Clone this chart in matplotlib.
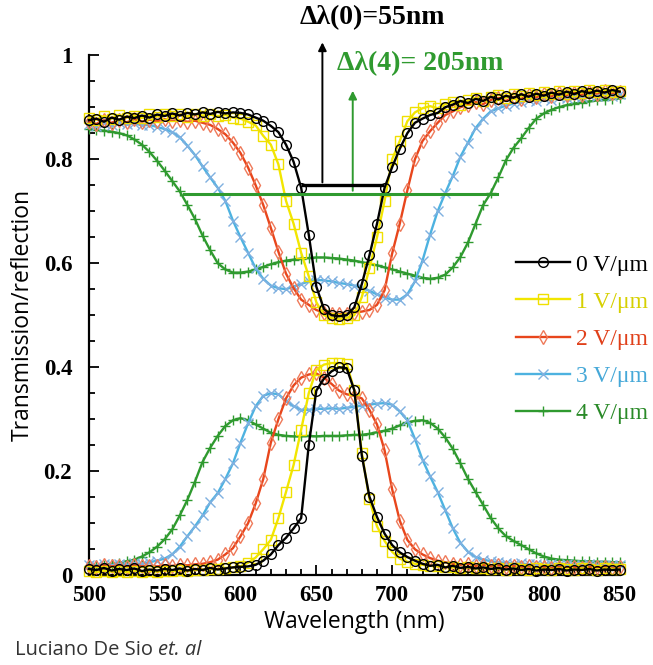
import numpy as np
import matplotlib
matplotlib.use("Agg")
import matplotlib.pyplot as plt
from matplotlib.ticker import MultipleLocator

# wavelength grid (nm)
wavelength = np.arange(500, 851, 5)

# upper curves (reflection), one per field
refl_0 = [0.875, 0.878, 0.872, 0.880, 0.876, 0.882, 0.879, 0.884, 0.880, 0.886,
          0.883, 0.888, 0.884, 0.889, 0.886, 0.890, 0.887, 0.891, 0.888, 0.890,
          0.889, 0.886, 0.880, 0.874, 0.864, 0.852, 0.828, 0.795, 0.745, 0.655,
          0.555, 0.512, 0.500, 0.498, 0.500, 0.515, 0.560, 0.615, 0.676, 0.745,
          0.785, 0.820, 0.850, 0.870, 0.878, 0.885, 0.889, 0.900, 0.905, 0.912,
          0.908, 0.916, 0.912, 0.920, 0.915, 0.922, 0.918, 0.925, 0.920, 0.926,
          0.922, 0.928, 0.924, 0.930, 0.925, 0.931, 0.927, 0.932, 0.928, 0.933,
          0.930]
refl_1 = [0.880, 0.876, 0.883, 0.878, 0.885, 0.880, 0.884, 0.879, 0.886, 0.882,
          0.887, 0.883, 0.886, 0.882, 0.887, 0.884, 0.886, 0.883, 0.885, 0.880,
          0.878, 0.872, 0.865, 0.845, 0.828, 0.790, 0.720, 0.676, 0.620, 0.575,
          0.525, 0.500, 0.495, 0.493, 0.495, 0.500, 0.535, 0.590, 0.650, 0.720,
          0.800, 0.835, 0.873, 0.890, 0.898, 0.902, 0.898, 0.906, 0.910, 0.905,
          0.913, 0.918, 0.912, 0.920, 0.924, 0.918, 0.926, 0.921, 0.928, 0.923,
          0.929, 0.925, 0.931, 0.926, 0.932, 0.928, 0.933, 0.929, 0.934, 0.930,
          0.932]
refl_2 = [0.872, 0.868, 0.875, 0.870, 0.876, 0.871, 0.877, 0.872, 0.876, 0.873,
          0.877, 0.874, 0.875, 0.872, 0.874, 0.870, 0.866, 0.858, 0.848, 0.832,
          0.812, 0.784, 0.750, 0.712, 0.668, 0.622, 0.580, 0.552, 0.530, 0.520,
          0.510, 0.505, 0.503, 0.502, 0.503, 0.505, 0.507, 0.510, 0.520, 0.548,
          0.619, 0.676, 0.740, 0.800, 0.835, 0.854, 0.870, 0.885, 0.892, 0.900,
          0.905, 0.910, 0.906, 0.914, 0.918, 0.912, 0.920, 0.916, 0.923, 0.919,
          0.925, 0.921, 0.927, 0.923, 0.928, 0.924, 0.930, 0.926, 0.931, 0.927,
          0.930]
refl_3 = [0.868, 0.864, 0.870, 0.866, 0.871, 0.867, 0.869, 0.865, 0.866, 0.862,
          0.858, 0.852, 0.842, 0.826, 0.808, 0.786, 0.765, 0.745, 0.720, 0.682,
          0.650, 0.620, 0.590, 0.570, 0.557, 0.552, 0.550, 0.555, 0.560, 0.565,
          0.568, 0.567, 0.565, 0.562, 0.560, 0.557, 0.553, 0.547, 0.540, 0.534,
          0.530, 0.530, 0.540, 0.565, 0.605, 0.655, 0.700, 0.735, 0.768, 0.805,
          0.832, 0.860, 0.878, 0.892, 0.898, 0.903, 0.907, 0.910, 0.914, 0.911,
          0.917, 0.914, 0.920, 0.917, 0.922, 0.919, 0.924, 0.921, 0.925, 0.922,
          0.925]
refl_4 = [0.858, 0.856, 0.855, 0.853, 0.850, 0.846, 0.838, 0.828, 0.814, 0.797,
          0.778, 0.758, 0.738, 0.712, 0.685, 0.653, 0.625, 0.600, 0.588, 0.582,
          0.582, 0.584, 0.588, 0.593, 0.598, 0.602, 0.605, 0.607, 0.609, 0.610,
          0.611, 0.611, 0.610, 0.609, 0.607, 0.605, 0.602, 0.599, 0.596, 0.592,
          0.588, 0.584, 0.580, 0.576, 0.572, 0.570, 0.572, 0.578, 0.592, 0.612,
          0.640, 0.676, 0.712, 0.735, 0.765, 0.798, 0.822, 0.840, 0.860, 0.878,
          0.888, 0.895, 0.900, 0.904, 0.907, 0.909, 0.911, 0.913, 0.914, 0.916,
          0.917]

# lower curves (transmission)
trans_0 = [0.012, 0.010, 0.014, 0.009, 0.012, 0.010, 0.013, 0.008, 0.011, 0.009,
           0.012, 0.010, 0.013, 0.009, 0.012, 0.010, 0.014, 0.011, 0.013, 0.015,
           0.016, 0.017, 0.020, 0.028, 0.040, 0.058, 0.072, 0.090, 0.110, 0.250,
           0.355, 0.378, 0.392, 0.400, 0.398, 0.356, 0.230, 0.151, 0.112, 0.080,
           0.058, 0.044, 0.035, 0.028, 0.022, 0.018, 0.020, 0.015, 0.018, 0.014,
           0.016, 0.013, 0.015, 0.012, 0.014, 0.011, 0.013, 0.010, 0.012, 0.009,
           0.011, 0.010, 0.012, 0.009, 0.011, 0.010, 0.012, 0.009, 0.011, 0.010,
           0.011]
trans_1 = [0.008, 0.006, 0.009, 0.007, 0.008, 0.006, 0.009, 0.007, 0.008, 0.007,
           0.009, 0.008, 0.010, 0.009, 0.010, 0.011, 0.012, 0.012, 0.014, 0.015,
           0.017, 0.024, 0.034, 0.050, 0.068, 0.110, 0.160, 0.212, 0.280, 0.350,
           0.395, 0.405, 0.408, 0.408, 0.407, 0.356, 0.235, 0.146, 0.094, 0.066,
           0.045, 0.032, 0.026, 0.022, 0.020, 0.018, 0.017, 0.016, 0.015, 0.014,
           0.015, 0.013, 0.014, 0.012, 0.013, 0.011, 0.013, 0.012, 0.011, 0.013,
           0.012, 0.011, 0.013, 0.012, 0.011, 0.013, 0.012, 0.011, 0.013, 0.012,
           0.012]
trans_2 = [0.018, 0.016, 0.019, 0.017, 0.018, 0.016, 0.019, 0.017, 0.018, 0.017,
           0.019, 0.018, 0.020, 0.019, 0.021, 0.022, 0.025, 0.030, 0.040, 0.052,
           0.075, 0.100, 0.138, 0.185, 0.255, 0.300, 0.340, 0.365, 0.380, 0.386,
           0.388, 0.380, 0.368, 0.355, 0.348, 0.345, 0.340, 0.318, 0.290, 0.240,
           0.165, 0.105, 0.068, 0.050, 0.040, 0.033, 0.028, 0.025, 0.022, 0.020,
           0.022, 0.018, 0.020, 0.017, 0.019, 0.016, 0.018, 0.015, 0.017, 0.015,
           0.016, 0.014, 0.016, 0.015, 0.016, 0.014, 0.016, 0.015, 0.016, 0.014,
           0.015]
trans_3 = [0.020, 0.018, 0.021, 0.019, 0.022, 0.020, 0.023, 0.022, 0.025, 0.028,
           0.032, 0.040, 0.055, 0.075, 0.094, 0.115, 0.140, 0.158, 0.185, 0.215,
           0.255, 0.292, 0.325, 0.345, 0.350, 0.348, 0.335, 0.325, 0.318, 0.318,
           0.320, 0.320, 0.321, 0.320, 0.322, 0.324, 0.326, 0.328, 0.330, 0.331,
           0.328, 0.315, 0.298, 0.262, 0.222, 0.190, 0.160, 0.125, 0.090, 0.062,
           0.045, 0.035, 0.030, 0.027, 0.025, 0.024, 0.022, 0.023, 0.021, 0.022,
           0.020, 0.021, 0.019, 0.021, 0.020, 0.019, 0.021, 0.020, 0.019, 0.020,
           0.019]
trans_4 = [0.017, 0.019, 0.020, 0.022, 0.024, 0.027, 0.030, 0.036, 0.044, 0.055,
           0.069, 0.088, 0.115, 0.145, 0.180, 0.218, 0.245, 0.268, 0.287, 0.298,
           0.302, 0.298, 0.290, 0.282, 0.274, 0.270, 0.268, 0.267, 0.267, 0.268,
           0.267, 0.268, 0.268, 0.268, 0.269, 0.270, 0.270, 0.272, 0.275, 0.278,
           0.282, 0.288, 0.294, 0.297, 0.298, 0.293, 0.282, 0.265, 0.243, 0.215,
           0.185, 0.160, 0.135, 0.110, 0.090, 0.075, 0.066, 0.058, 0.050, 0.042,
           0.036, 0.032, 0.030, 0.029, 0.028, 0.027, 0.027, 0.026, 0.026, 0.025,
           0.025]

labels = ["0 V/μm", "1 V/μm", "2 V/μm", "3 V/μm", "4 V/μm"]
colors = ["#000000", "#f2e600", "#e8461c", "#4db2e0", "#2f9a2f"]
edge_colors = ["#000000", "#f0e000", "#ef7a5a", "#7fb0e0", "#2f9a2f"]
text_colors = ["#000000", "#d6d000", "#e0401a", "#45a8d8", "#2a8a28"]
markers = ["o", "s", "d", "x", "+"]

# bandwidth markers: (start, end, level, arrow x, arrow top)
band_0 = (641, 693, 0.75, 654, 1.03)
band_4 = (563, 769, 0.734, 674, 0.937)

refl = [refl_0, refl_1, refl_2, refl_3, refl_4]
trans = [trans_0, trans_1, trans_2, trans_3, trans_4]

fig = plt.figure(figsize=(6.53, 6.65), dpi=100)
ax = fig.add_axes([0.136, 0.135, 0.813, 0.782])

handles = [None] * 5
for i in [4, 3, 2, 1, 0]:
    for ys in (refl[i], trans[i]):
        ln, = ax.plot(wavelength, ys, color=colors[i], lw=1.7, marker=markers[i],
                      ms=7, mfc="none", mec=edge_colors[i], mew=1.0, clip_on=False,
                      zorder=3 + (4 - i) * 0.1)
    handles[i] = ln

# bandwidth lines and arrows
for band, c, lw in ((band_4, "#2f9a2f", 2.2), (band_0, "black", 2.4)):
    ax.plot([band[0], band[1]], [band[2], band[2]], color=c, lw=lw, zorder=6)
    ax.annotate("", xy=(band[3], band[4]), xytext=(band[3], band[2]),
                arrowprops=dict(arrowstyle="-|>", color=c, lw=1.4, mutation_scale=12),
                annotation_clip=False, zorder=6)

fig.text(0.571, 0.974, "Δλ(0)=55nm", ha="center", va="center",
         family="Liberation Serif", size=20, weight="bold", color="black")
fig.text(0.643, 0.905, "Δλ(4)= 205nm", ha="center", va="center",
         family="Liberation Serif", size=20, weight="bold", color="#2f9a2f")

ax.set_xlim(500, 850)
ax.set_ylim(0, 1)
ax.xaxis.set_major_locator(MultipleLocator(50))
ax.xaxis.set_minor_locator(MultipleLocator(10))
ax.set_yticks([0, 0.2, 0.4, 0.6, 0.8, 1.0])
ax.set_yticklabels(["0", "0.2", "0.4", "0.6", "0.8", "1"])
ax.yaxis.set_minor_locator(MultipleLocator(0.05))
ax.tick_params(which="both", direction="in", width=1.3, top=False, right=False)
ax.tick_params(which="major", length=7)
ax.tick_params(which="minor", length=4)
ax.tick_params(axis="x", pad=7)
ax.tick_params(axis="y", pad=12)
for lab in ax.get_xticklabels() + ax.get_yticklabels():
    lab.set_family("Liberation Serif")
    lab.set_size(16.5)
    lab.set_weight("bold")

for s in ["top", "right"]:
    ax.spines[s].set_visible(False)
for s in ["left", "bottom"]:
    ax.spines[s].set_linewidth(1.6)

ax.set_xlabel("Wavelength (nm)", family="Open Sans", size=16.5, labelpad=3)
ax.set_ylabel("Transmission/reflection", family="Open Sans", size=16.5, labelpad=6)

leg = fig.legend(handles, labels, loc="upper left", bbox_to_anchor=(0.79, 0.618),
                 frameon=False, prop={"family": "Liberation Serif", "size": 17},
                 handlelength=2.3, handletextpad=0.25, labelspacing=0.66,
                 borderpad=0, borderaxespad=0)
for txt, c in zip(leg.get_texts(), text_colors):
    txt.set_color(c)

t1 = fig.text(0.023, 0.015, "Luciano De Sio ", family="Open Sans", size=14.5,
              color="#333333", ha="left", va="baseline")
fig.canvas.draw()
ax.annotate("et. al", xy=(1, 0), xycoords=t1, va="bottom", ha="left",
            family="Open Sans", style="italic", size=14.5, color="#333333")

fig.savefig("out.png", dpi=100)
